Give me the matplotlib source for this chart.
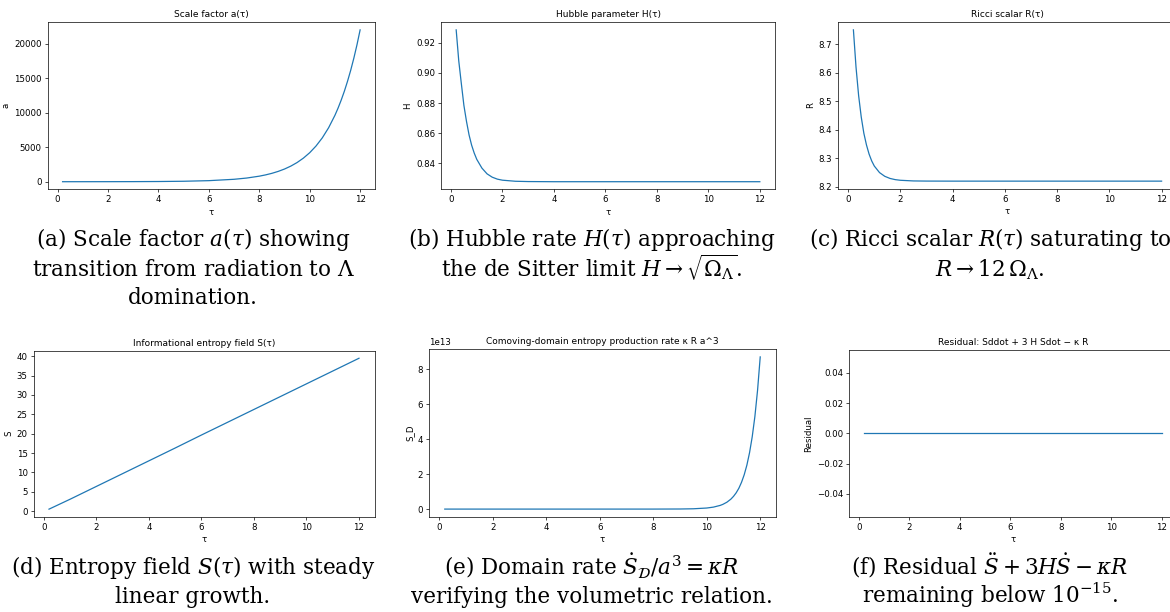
import matplotlib
matplotlib.use("Agg")
import matplotlib.pyplot as plt

# values
tau_grow = [0.2, 1, 2, 3, 4, 5, 6, 7, 7.5, 8, 8.25, 8.5, 8.75, 9, 9.25, 9.5, 9.75, 10,
            10.25, 10.5, 10.75, 11, 11.125, 11.25, 11.375, 11.5, 11.625, 11.75, 11.875, 12]
scale_a = [0.8, 2.3, 5.5, 13, 29, 67, 153, 351, 531, 803, 988, 1214, 1494, 1836, 2260,
           2778, 3418, 4201, 5170, 6355, 7819, 9614, 10666, 11830, 13116, 14550, 16130,
           17890, 19838, 22000]

tau_early = [0.2, 0.3, 0.4, 0.5, 0.6, 0.7, 0.8, 0.9, 1.0, 1.2, 1.4, 1.6, 1.8, 2.0,
             2.5, 3, 4, 6, 8, 10, 12]
hubble_H = [0.9284, 0.9079, 0.8929, 0.8784, 0.8679, 0.8589, 0.8521, 0.8469, 0.8427,
            0.8369, 0.8331, 0.8309, 0.8296, 0.8289, 0.8282, 0.8280, 0.8279, 0.8279,
            0.8279, 0.8279, 0.8279]
ricci_R = [8.751, 8.620, 8.520, 8.445, 8.388, 8.347, 8.315, 8.291, 8.273, 8.250,
           8.237, 8.2295, 8.2253, 8.223, 8.2207, 8.2202, 8.220, 8.220, 8.220, 8.220, 8.220]

tau_lin = [0.2, 1, 2, 3, 4, 5, 6, 7, 8, 9, 10, 11, 12]
entropy_S = [0.55, 3.1, 6.4, 9.7, 13.0, 16.3, 19.65, 22.95, 26.25, 29.55, 32.85, 36.15, 39.45]
residual = [0.0, 0.0, 0.0, 0.0, 0.0, 0.0, 0.0, 0.0, 0.0, 0.0, 0.0, 0.0, 0.0]

tau_domain = [0.2, 2, 4, 6, 8, 9, 9.5, 10, 10.25, 10.5, 10.6, 10.75, 10.9, 11, 11.1,
              11.2, 11.3, 11.4, 11.5, 11.6, 11.7, 11.8, 11.9, 12]
rate_SD = [4.5, 1.4e3, 2.0e5, 2.9e7, 4.3e9, 5.1e10, 1.8e11, 6.1e11, 1.13e12, 2.1e12,
           2.69e12, 3.9e12, 5.66e12, 7.27e12, 9.3e12, 1.19e13, 1.53e13, 1.96e13,
           2.51e13, 3.22e13, 4.13e13, 5.29e13, 6.79e13, 8.70e13]

titles = ["Scale factor a(τ)", "Hubble parameter H(τ)", "Ricci scalar R(τ)",
          "Informational entropy field S(τ)", "Comoving-domain entropy production rate κ R a^3",
          "Residual: Sddot + 3 H Sdot − κ R"]
ylabels = ["a", "H", "R", "S", "S_D", "Residual"]

captions = [
    ["(a) Scale factor $a(\\tau)$ showing", "transition from radiation to $\\Lambda$", "domination."],
    ["(b) Hubble rate $H(\\tau)$ approaching", "the de Sitter limit $H \\rightarrow \\sqrt{\\Omega_\\Lambda}$."],
    ["(c) Ricci scalar $R(\\tau)$ saturating to", "$R \\rightarrow 12\\,\\Omega_\\Lambda$."],
    ["(d) Entropy field $S(\\tau)$ with steady", "linear growth."],
    ["(e) Domain rate $\\dot{S}_{\\mathcal{D}}/a^3 = \\kappa R$", "verifying the volumetric relation."],
    ["(f) Residual $\\ddot{S} + 3H\\dot{S} - \\kappa R$", "remaining below $10^{-15}$."],
]

plt.rcParams.update({
    "font.size": 6.2,
    "axes.linewidth": 0.5,
    "xtick.major.width": 0.5, "ytick.major.width": 0.5,
    "xtick.major.size": 2.2, "ytick.major.size": 2.2,
    "xtick.major.pad": 2.0, "ytick.major.pad": 2.0,
    "axes.labelpad": 2.5,
    "mathtext.fontset": "dejavuserif",
})

W, H = 1170, 612
fig = plt.figure(figsize=(W / 100, H / 100), dpi=100)

# axes boxes in pixels: left, right, top, bottom
boxes = [(47.7, 375, 22.3, 189.3), (441, 775, 22.3, 189.3), (838, 1177, 22.3, 188.7),
         (33.5, 374.5, 350.7, 516.7), (429, 776, 349.3, 516.7), (849, 1176.6, 350, 516.7)]
series = [(tau_grow, scale_a), (tau_early, hubble_H), (tau_early, ricci_R),
          (tau_lin, entropy_S), (tau_domain, rate_SD), (tau_lin, residual)]

for i, ((l, r, t, b), (xs, ys)) in enumerate(zip(boxes, series)):
    ax = fig.add_axes([l / W, 1 - b / H, (r - l) / W, (b - t) / H])
    ax.plot(xs, ys, color="#1f77b4", lw=0.9)
    ax.set_title(titles[i], fontsize=6.5, pad=3.5)
    ax.set_xlabel("τ")
    ax.set_ylabel(ylabels[i])
    ax.set_xticks([0, 2, 4, 6, 8, 10, 12])
    ax.yaxis.get_offset_text().set_fontsize(6.2)

# subfigure captions
col_x = [193, 592, 990]
row_y = [[246, 276.5, 304.5], [574, 603]]
for i, lines in enumerate(captions):
    cx = col_x[i % 3]
    ys = row_y[i // 3]
    for j, line in enumerate(lines):
        fig.text(cx / W, 1 - ys[j] / H, line, ha="center", va="baseline",
                 family="DejaVu Serif", fontsize=15.5)

fig.savefig("out.png", dpi=100)
